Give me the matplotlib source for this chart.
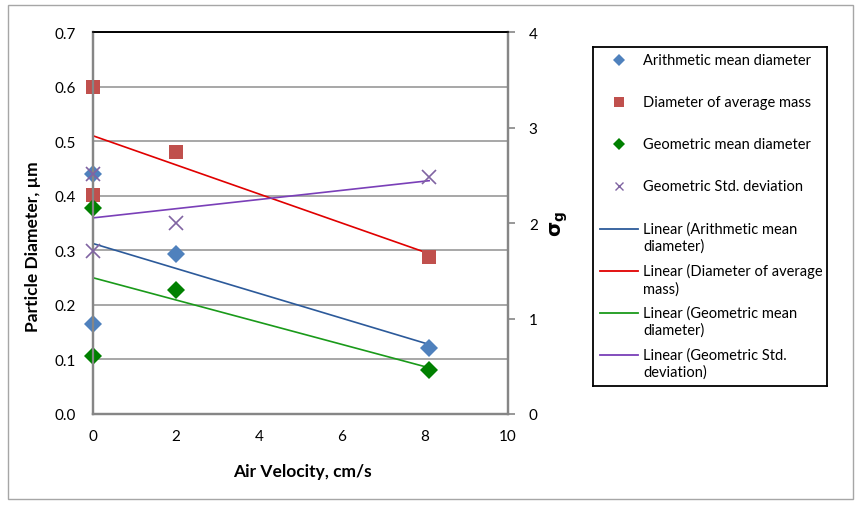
import numpy as np
import matplotlib
matplotlib.use("Agg")
import matplotlib.pyplot as plt
from matplotlib.patches import Rectangle

plt.rcParams['font.family'] = ['Lato', 'DejaVu Sans']

# ---- data ----
x_amd = [0, 0, 2, 8.1]
y_amd = [0.44, 0.165, 0.293, 0.121]
x_dam = [0, 0, 2, 8.1]
y_dam = [0.60, 0.402, 0.48, 0.288]
x_gmd = [0, 0, 2, 8.1]
y_gmd = [0.378, 0.107, 0.228, 0.080]
x_gsd = [0, 0, 2, 8.1]
y_gsd = [2.51, 1.71, 2.0, 2.48]

left_ticks = [0.0, 0.1, 0.2, 0.3, 0.4, 0.5, 0.6, 0.7]
right_ticks = [0, 1, 2, 3, 4]
x_ticks = [0, 2, 4, 6, 8, 10]

names = ["Arithmetic mean diameter", "Diameter of average mass",
         "Geometric mean diameter", "Geometric Std. deviation"]
trend_names = ["Linear (Arithmetic mean\ndiameter)", "Linear (Diameter of average\nmass)",
               "Linear (Geometric mean\ndiameter)", "Linear (Geometric Std.\ndeviation)"]

c_amd, c_dam, c_gmd, c_gsd = '#4F81BD', '#C0504D', '#008000', '#8064A2'
t_amd, t_dam, t_gmd, t_gsd = '#2C5A9A', '#E00000', '#1A9A1A', '#7A3FB8'

W, H = 861, 506
fig = plt.figure(figsize=(W/100, H/100), dpi=100)

# outer chart border
fig.patches.append(Rectangle((8/W, 1-500/H), (853-8)/W, (500-6)/H, transform=fig.transFigure,
                             fill=False, edgecolor='#A6A6A6', linewidth=1.0))

ax = fig.add_axes([93/W, 1-415/H, (508-93)/W, (415-33)/H])
ax2 = ax.twinx()

def trend(xs, ys):
    k, b = np.polyfit(xs, ys, 1)
    xx = np.array([min(xs), max(xs)])
    return xx, k*xx + b

gray = '#868686'
ax.set_xlim(0, 10)
ax.set_ylim(0, 0.7)
ax2.set_ylim(0, 4)
ax.set_yticks(left_ticks)
ax.set_yticklabels([f"{v:.1f}" for v in left_ticks])
ax.set_xticks(x_ticks)
ax2.set_yticks(right_ticks)
ax.grid(axis='y', color='#A0A0A0', linewidth=1.3)
ax.set_axisbelow(True)

for a in (ax, ax2):
    for s in ('left', 'right', 'bottom'):
        a.spines[s].set_color(gray)
        a.spines[s].set_linewidth(1.6)
    a.spines['top'].set_color('black')
    a.spines['top'].set_linewidth(1.2)

ax.tick_params(axis='both', length=0, labelsize=11, colors='black')
ax.tick_params(axis='y', pad=12)
ax.tick_params(axis='x', pad=11)
ax2.tick_params(axis='y', length=5, width=1.2, color=gray, labelsize=11, pad=10)

# trendlines
for xs, ys, col, a in [(x_amd, y_amd, t_amd, ax), (x_dam, y_dam, t_dam, ax),
                       (x_gmd, y_gmd, t_gmd, ax), (x_gsd, y_gsd, t_gsd, ax2)]:
    xx, yy = trend(xs, ys)
    a.plot(xx, yy, color=col, linewidth=1.2, zorder=2, clip_on=False)

# points
ax.plot(x_amd, y_amd, 'D', color=c_amd, markersize=9, markeredgewidth=0, zorder=3, clip_on=False)
ax.plot(x_dam, y_dam, 's', color=c_dam, markersize=10.5, markeredgewidth=0, zorder=3, clip_on=False)
ax.plot(x_gmd, y_gmd, 'D', color=c_gmd, markersize=9, markeredgewidth=0, zorder=3, clip_on=False)
ax2.plot(x_gsd, y_gsd, 'x', color=c_gsd, markersize=10, markeredgewidth=1.2, zorder=3, clip_on=False)

ax.set_xlabel("Air Velocity, cm/s", fontsize=12.5, fontweight='bold')
ax.xaxis.set_label_coords(0.504, -0.128)
ax.set_ylabel("Particle Diameter, µm", fontsize=12.5, fontweight='bold')
ax.yaxis.set_label_coords(-0.125, 0.44)
ax2.set_ylabel(r"$\mathbf{\sigma_g}$", fontsize=14, rotation=90, labelpad=8)

# legend (drawn manually in its own box)
L, T, R, B = 593, 48, 827, 387
lax = fig.add_axes([L/W, 1-B/H, (R-L)/W, (B-T)/H])
lax.set_xlim(0, R-L)
lax.set_ylim(B-T, 0)
lax.set_xticks([]); lax.set_yticks([])
for s in lax.spines.values():
    s.set_color('black'); s.set_linewidth(1.3)
mx, tx = 619-L, 643-L
marker_specs = [('D', c_amd, 6, 0), ('s', c_dam, 7, 0), ('D', c_gmd, 6.5, 0), ('x', c_gsd, 6, 1.0)]
ys_marker = [61-T, 103-T, 145-T, 187-T]
for (m, c, ms, mew), yy, nm in zip(marker_specs, ys_marker, names):
    lax.plot([mx], [yy], m, color=c, markersize=ms, markeredgewidth=mew)
    lax.text(tx, yy, nm, fontsize=10.5, va='center', ha='left')
ys_line = [230-T, 272-T, 314-T, 356-T]
for col, yy, nm in zip([t_amd, t_dam, t_gmd, t_gsd], ys_line, trend_names):
    lax.plot([600-L, 638-L], [yy, yy], color=col, linewidth=1.3)
    lax.text(tx, yy-8, nm, fontsize=10.5, va='top', ha='left', linespacing=1.3)

fig.savefig("out.png", dpi=100)
